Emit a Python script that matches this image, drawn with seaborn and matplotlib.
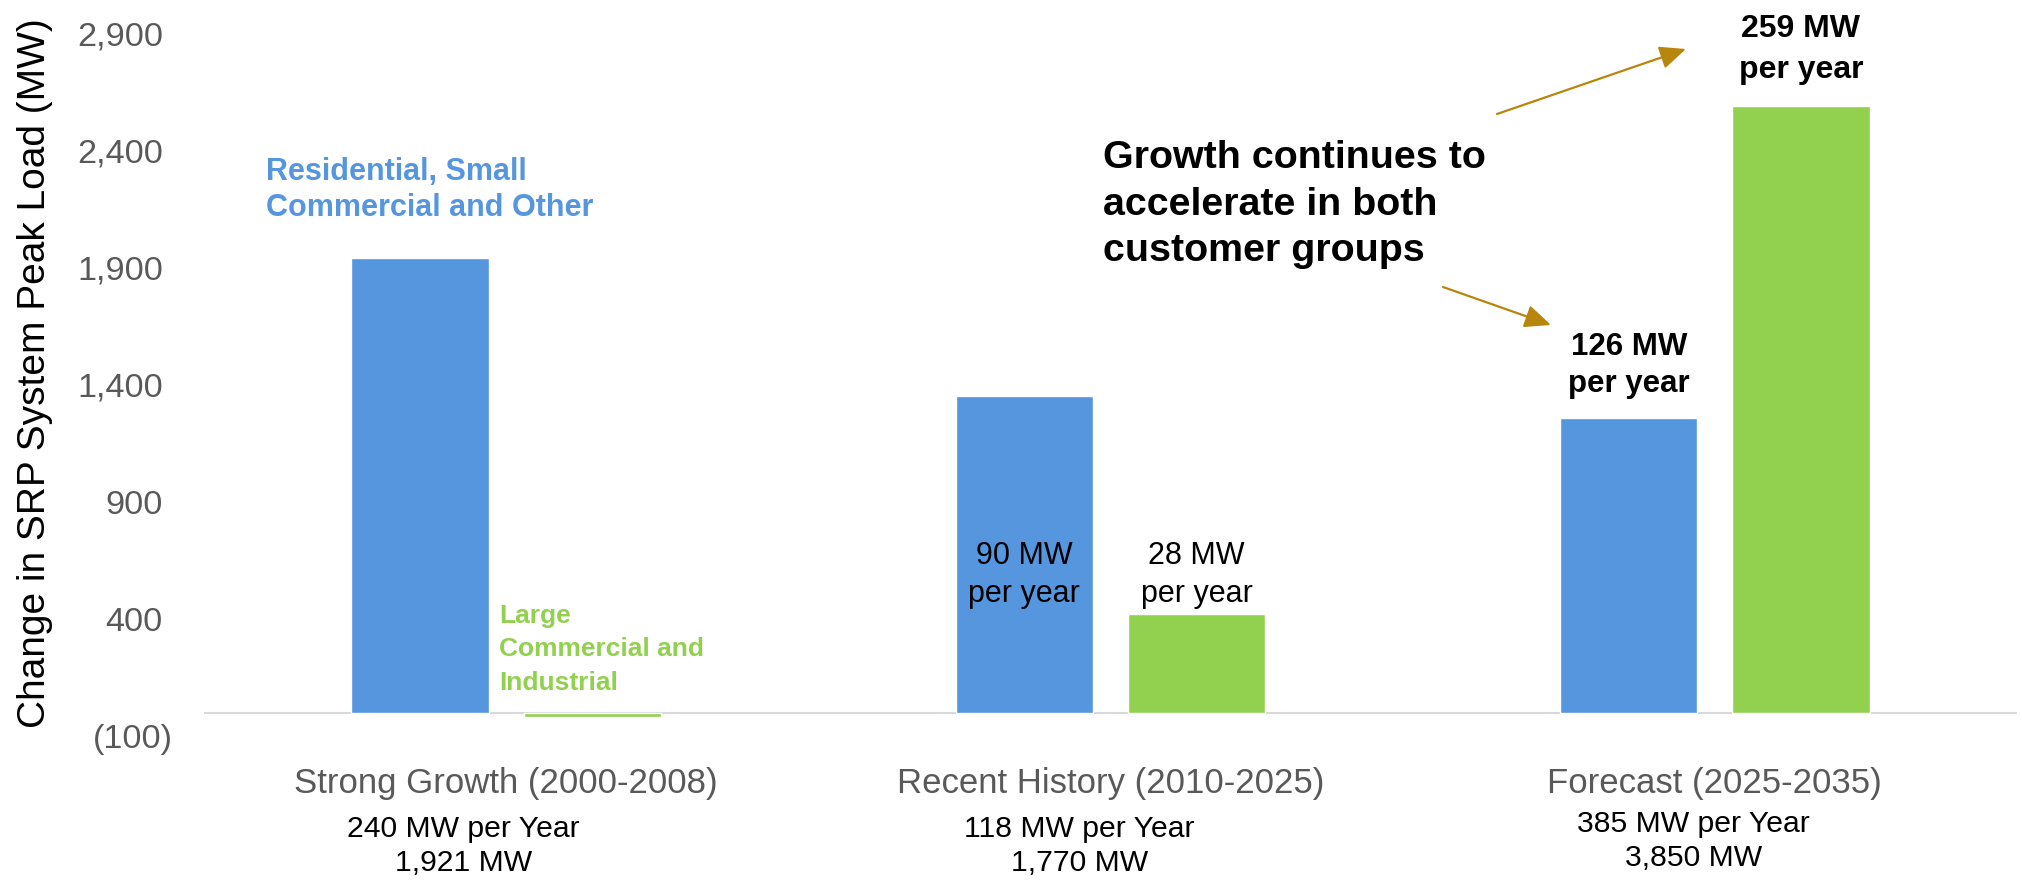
"""
SRP system peak load growth by customer group: grouped bar chart.
"""

import numpy as np
import pandas as pd
import matplotlib.pyplot as plt
import matplotlib.transforms as mtransforms
import seaborn as sns


# ---------------------------------------------------------------------------
# Data
# ---------------------------------------------------------------------------

PERIODS = ["Strong Growth (2000-2008)", "Recent History (2010-2025)", "Forecast (2025-2035)"]
GROUPS = ["Residential, Small Commercial and Other", "Large Commercial and Industrial"]
RESIDENTIAL_MW = [1941, 1350, 1260]
LARGE_CI_MW = [-20, 420, 2590]
TOTAL_PER_YEAR = ["240 MW per Year", "118 MW per Year", "385 MW per Year"]
TOTAL_MW = ["1,921 MW", "1,770 MW", "3,850 MW"]
Y_TICKS = [-100, 400, 900, 1400, 1900, 2400, 2900]

BLUE = "#5596DE"
GREEN = "#92D050"
GOLD = "#B8860B"
GRAY = "#595959"

W, H, DPI = 2022, 882, 100
AX_LEFT, AX_RIGHT, AX_TOP, AX_BOTTOM = 204, 2017, 33.5, 736


def fy(px):
    """pixel row (from top) -> figure fraction"""
    return 1 - px / H


def fmt_tick(v):
    return f"({abs(v):,})" if v < 0 else f"{v:,}"


# ---------------------------------------------------------------------------
# Plot
# ---------------------------------------------------------------------------

sns.set_theme(style="white")
plt.rcParams["font.family"] = ["Liberation Sans", "DejaVu Sans"]
plt.rcParams["text.color"] = "black"

df = pd.DataFrame({
    "period": PERIODS * 2,
    "group": [GROUPS[0]] * 3 + [GROUPS[1]] * 3,
    "mw": RESIDENTIAL_MW + LARGE_CI_MW,
})

fig = plt.figure(figsize=(W / DPI, H / DPI), dpi=DPI)
ax = fig.add_axes([AX_LEFT / W, fy(AX_BOTTOM), (AX_RIGHT - AX_LEFT) / W,
                   (AX_BOTTOM - AX_TOP) / H])

sns.barplot(data=df, x="period", y="mw", hue="group", order=PERIODS,
            hue_order=GROUPS, palette=[BLUE, GREEN], width=0.57, gap=0.204,
            saturation=1, errorbar=None, legend=False, ax=ax, zorder=2)

ax.axhline(0, color="#D9D9D9", lw=1.5, zorder=1)
ax.set_xlim(-0.5, 2.5)
ax.set_ylim(-100, 2900)
for s in ax.spines.values():
    s.set_visible(False)

# y tick labels: excel-style, positives padded by the width of ")"
ax.set_yticks(Y_TICKS)
ax.set_yticklabels([])
ax.tick_params(axis="y", length=0)
ytrans = mtransforms.blended_transform_factory(ax.transAxes, ax.transData)
for v in Y_TICKS:
    xr = 173 if v < 0 else 163
    ax.text((xr - AX_LEFT) / (AX_RIGHT - AX_LEFT), v, fmt_tick(v), transform=ytrans,
            ha="right", va="center_baseline", fontsize=24.7, color=GRAY, clip_on=False)

ax.tick_params(axis="x", length=0, pad=22.5, labelsize=25, labelcolor=GRAY)
ax.set_xlabel("")
ax.set_ylabel("")
fig.text(35 / W, fy(373), "Change in SRP System Peak Load (MW)", rotation=90,
         ha="center", va="center", fontsize=28, color="black")

# totals under each period
trans = mtransforms.blended_transform_factory(ax.transData, fig.transFigure)
sub_dx = [-0.071, -0.051, -0.035]
sub_y = [846, 846, 841]
for i, (a, b) in enumerate(zip(TOTAL_PER_YEAR, TOTAL_MW)):
    ax.text(i + sub_dx[i], fy(sub_y[i]), f"{a}\n{b}", transform=trans,
            ha="center", va="center", fontsize=21.7, linespacing=1.28)

# series labels
ax.text(-0.397, 2232, "Residential, Small\nCommercial and Other", color=BLUE,
        fontsize=22, fontweight="bold", ha="left", va="center", linespacing=1.28)
ax.text(-0.012, 271, "Large\nCommercial and\nIndustrial", color=GREEN,
        fontsize=19, fontweight="bold", ha="left", va="center", linespacing=1.5)

# per-year labels on bars
ax.text(1 - 0.1425, 588, "90 MW\nper year", ha="center", va="center",
        fontsize=22, linespacing=1.37)
ax.text(1 + 0.1425, 588, "28 MW\nper year", ha="center", va="center",
        fontsize=22, linespacing=1.37)
ax.text(2 - 0.1425, 1481, "126 MW\nper year", ha="center", va="center",
        fontsize=22.5, fontweight="bold", linespacing=1.3)
ax.text(2 + 0.1425, 2832, "259 MW\nper year", ha="center", va="center",
        fontsize=23, fontweight="bold", linespacing=1.48, clip_on=False)

# callout
ax.text(0.987, 2169, "Growth continues to\naccelerate in both\ncustomer groups",
        ha="left", va="center", fontsize=28.4, fontweight="bold", linespacing=1.375)

arrow = dict(arrowstyle="-|>,head_length=0.8,head_width=0.35", color=GOLD,
             lw=1.6, shrinkA=0, shrinkB=0, mutation_scale=20)
ax.annotate("", xy=(1686 / W, fy(49)), xytext=(1497 / W, fy(114)),
            xycoords="figure fraction", textcoords="figure fraction", arrowprops=arrow)
ax.annotate("", xy=(1551 / W, fy(325)), xytext=(1443 / W, fy(287)),
            xycoords="figure fraction", textcoords="figure fraction", arrowprops=arrow)

fig.savefig("out.png", dpi=DPI)
plt.close(fig)
